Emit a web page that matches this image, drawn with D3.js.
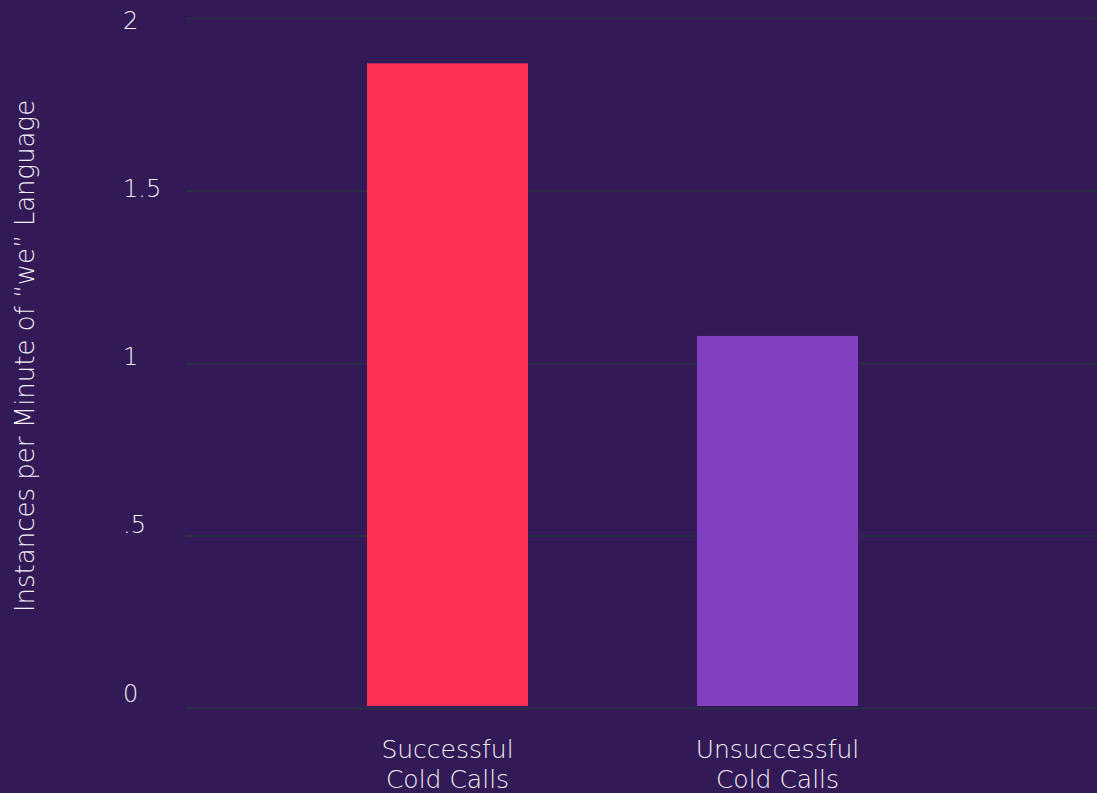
<!DOCTYPE html>
<html>
<head>
<meta charset="utf-8">
<script src="https://cdn.jsdelivr.net/npm/d3@7"></script>
<style>
  html, body { margin: 0; padding: 0; background: #331a56; }
  svg { display: block; }
  text { font-family: "DejaVu Sans", sans-serif; font-weight: 200; fill: #f2eff7; }
</style>
</head>
<body>
<svg id="chart" width="1097" height="793"></svg>
<script>
// Chart data
const categories = ["Successful\nCold Calls", "Unsuccessful\nCold Calls"];
const values = [1.87, 1.08];
const barColors = ["#fd3155", "#8040bf"];
const yTicks = [0, 0.5, 1, 1.5, 2];
const yTickLabels = ["0", ".5", "1", "1.5", "2"];
const yTitle = "Instances per Minute of \u201cwe\u201d Language";

const width = 1097, height = 793;
const svg = d3.select("#chart");

const plotLeft = 186, plotRight = 1097;
const y = d3.scaleLinear().domain([0, 2]).range([708.5, 18.5]);
// tick labels sit on their own slightly tighter scale
const yLab = d3.scaleLinear().domain([0, 2]).range([701.5, 29]);
const x = d3.scaleBand().domain(categories).range([202, 1023])
  .paddingInner(0.512).paddingOuter(0.5);

// Gridlines
svg.append("g").selectAll("line").data(yTicks).join("line")
  .attr("x1", plotLeft).attr("x2", plotRight)
  .attr("y1", d => y(d)).attr("y2", d => y(d))
  .attr("stroke", "#2b2c45").attr("stroke-width", 2);

// Y tick labels
svg.append("g").selectAll("text").data(yTicks).join("text")
  .attr("x", 123).attr("y", d => yLab(d))
  .attr("text-anchor", "start")
  .style("font-size", "24px")
  .text((d, i) => yTickLabels[i]);

// Bars (sit just above the baseline)
const gap = 2.5;
svg.append("g").selectAll("rect").data(values).join("rect")
  .attr("x", (d, i) => x(categories[i]))
  .attr("width", x.bandwidth())
  .attr("y", d => y(d))
  .attr("height", d => y(0) - y(d) - gap)
  .attr("fill", (d, i) => barColors[i]);

// X category labels
const xl = svg.append("g").selectAll("text").data(categories).join("text")
  .attr("text-anchor", "middle")
  .style("font-size", "25px");
xl.each(function(d) {
  const t = d3.select(this);
  d.split("\n").forEach((line, j) => {
    t.append("tspan")
      .attr("x", x(d) + x.bandwidth() / 2)
      .attr("y", 758 + j * 30)
      .text(line);
  });
});

// Y axis title
svg.append("text")
  .attr("transform", "translate(34,356) rotate(-90)")
  .attr("text-anchor", "middle")
  .style("font-size", "26px")
  .text(yTitle);
</script>
</body>
</html>
